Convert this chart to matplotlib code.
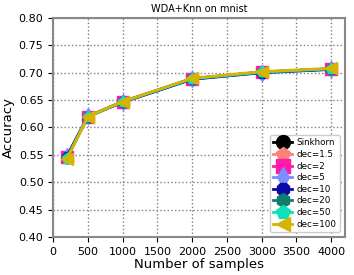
import matplotlib
matplotlib.use("Agg")
import matplotlib.pyplot as plt

# =========================
# DATA
# =========================
n_samples = [200, 500, 1000, 2000, 3000, 4000]
labels = ["Sinkhorn", "dec=1.5", "dec=2", "dec=5", "dec=10", "dec=20", "dec=50", "dec=100"]
acc = {
    "Sinkhorn": [0.546, 0.620, 0.647, 0.689, 0.701, 0.707],
    "dec=1.5":  [0.546, 0.620, 0.647, 0.689, 0.701, 0.707],
    "dec=2":    [0.547, 0.620, 0.647, 0.689, 0.701, 0.707],
    "dec=5":    [0.548, 0.621, 0.646, 0.688, 0.700, 0.706],
    "dec=10":   [0.547, 0.620, 0.646, 0.688, 0.700, 0.706],
    "dec=20":   [0.544, 0.620, 0.647, 0.689, 0.701, 0.707],
    "dec=50":   [0.543, 0.620, 0.647, 0.689, 0.701, 0.707],
    "dec=100":  [0.543, 0.620, 0.647, 0.690, 0.702, 0.708],
}
colors = ["black", "#f98477", "#ff1ba8", "#7d8cff", "#0a0aa8", "#127d6e", "#0ee0b8", "#d6b400"]
markers = ["o", "p", "s", "d", "8", "h", "p", "<"]

# =========================
# PLOT
# =========================
fig, ax = plt.subplots(figsize=(3.54, 2.75), dpi=100)
for lab, c, m in zip(labels, colors, markers):
    ax.plot(n_samples, acc[lab], color=c, marker=m, markersize=8, linewidth=2, label=lab)

ax.set_xlim(0, 4200)
ax.set_ylim(0.4, 0.8)
ax.set_xticks(range(0, 4001, 500))
ax.set_yticks([0.40, 0.45, 0.50, 0.55, 0.60, 0.65, 0.70, 0.75, 0.80])
ax.tick_params(labelsize=8, length=3.5)
ax.grid(True, linestyle=":", color="gray", linewidth=1)
for s in ax.spines.values():
    s.set_color("#888888")
    s.set_linewidth(1.5)
ax.set_title("WDA+Knn on mnist", fontsize=7, pad=4)
ax.set_xlabel("Number of samples", fontsize=9.5, labelpad=1)
ax.set_ylabel("Accuracy", fontsize=9.5, labelpad=3)
ax.legend(loc="lower right", fontsize=6.3, markerscale=1.25, handlelength=2.2,
          labelspacing=0.3, borderpad=0.35, handletextpad=0.5, framealpha=1,
          borderaxespad=0.6)

fig.subplots_adjust(left=0.15, right=0.975, top=0.935, bottom=0.138)
fig.savefig("out.png", dpi=100)
